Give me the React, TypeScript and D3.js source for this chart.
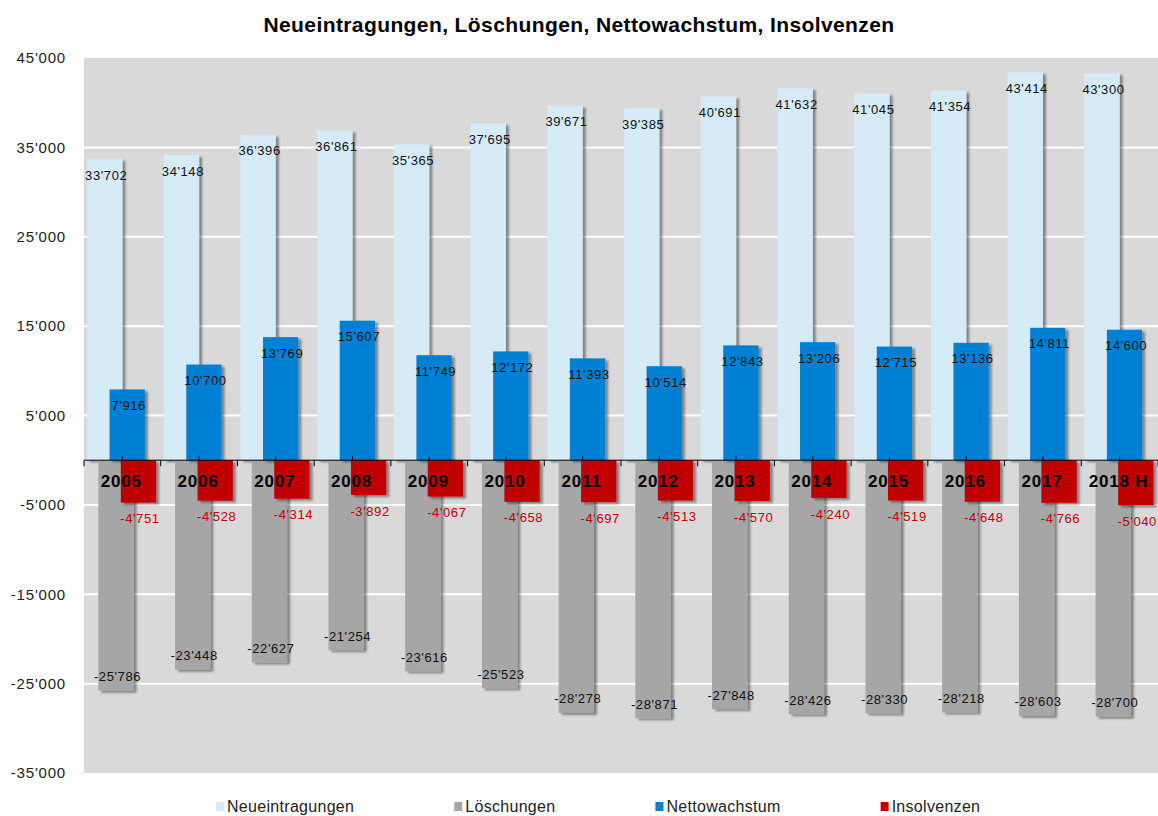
import { useEffect, useRef } from "react";
import * as d3 from "d3";

const years = ["2005", "2006", "2007", "2008", "2009", "2010", "2011", "2012", "2013", "2014", "2015", "2016", "2017", "2018 H"];
const neueintragungen = [33702, 34148, 36396, 36861, 35365, 37695, 39671, 39385, 40691, 41632, 41045, 41354, 43414, 43300];
const loeschungen = [-25786, -23448, -22627, -21254, -23616, -25523, -28278, -28871, -27848, -28426, -28330, -28218, -28603, -28700];
const nettowachstum = [7916, 10700, 13769, 15607, 11749, 12172, 11393, 10514, 12843, 13206, 12715, 13136, 14811, 14600];
const insolvenzen = [-4751, -4528, -4314, -3892, -4067, -4658, -4697, -4513, -4570, -4240, -4519, -4648, -4766, -5040];
const yTicks = [45000, 35000, 25000, 15000, 5000, -5000, -15000, -25000, -35000];
const seriesNames = ["Neueintragungen", "Löschungen", "Nettowachstum", "Insolvenzen"];
const seriesColors = ["#d5ebf8", "#a6a6a6", "#0080d3", "#c00000"];
const title = "Neueintragungen, Löschungen, Nettowachstum, Insolvenzen";

const FONT = "'Liberation Sans', Arial, sans-serif";

export default function App() {
  const svgRef = useRef<SVGSVGElement | null>(null);

  useEffect(() => {
    if (!svgRef.current) return;
    const svg = d3.select(svgRef.current);
    svg.selectAll("*").remove();

    const width = 1158;
    const height = 816;
    const plot = { left: 84, right: 1158, top: 58, bottom: 773 };

    const fmt = d3.formatLocale({
      decimal: ".",
      thousands: "'",
      grouping: [3],
      currency: ["", ""],
      minus: "-",
    }).format(",d");

    const x = d3.scaleBand<string>().domain(years).range([plot.left, plot.right]);
    const bw = x.bandwidth();
    const y = d3.scaleLinear().domain([-35000, 45000]).range([plot.bottom, plot.top]);
    // overlapping bars inside each category
    const sub = d3.scaleLinear().domain([0, 3]).range([0.04, 0.48]);
    const barW = bw * 0.46;

    svg.attr("viewBox", `0 0 ${width} ${height}`).style("font-family", FONT);

    const defs = svg.append("defs");
    const f = defs.append("filter").attr("id", "shadow")
      .attr("x", "-20%").attr("y", "-5%").attr("width", "150%").attr("height", "115%");
    f.append("feDropShadow")
      .attr("dx", 3).attr("dy", 2).attr("stdDeviation", 1.3)
      .attr("flood-color", "#000").attr("flood-opacity", 0.4);

    svg.append("rect").attr("width", width).attr("height", height).attr("fill", "#fff");

    // title
    svg.append("text")
      .attr("x", width / 2).attr("y", 32)
      .attr("text-anchor", "middle")
      .attr("font-size", 21).attr("font-weight", "bold")
      .attr("letter-spacing", 0.4)
      .attr("fill", "#000")
      .text(title);

    // plot background
    svg.append("rect")
      .attr("x", plot.left).attr("y", plot.top)
      .attr("width", plot.right - plot.left).attr("height", plot.bottom - plot.top)
      .attr("fill", "#d9d9d9");

    // grid
    svg.append("g")
      .selectAll("line")
      .data(yTicks.filter((t) => t !== 45000 && t !== -35000))
      .join("line")
      .attr("x1", plot.left).attr("x2", plot.right)
      .attr("y1", (d) => y(d)).attr("y2", (d) => y(d))
      .attr("stroke", "#fff").attr("stroke-width", 2);

    // y labels
    svg.append("g")
      .selectAll("text")
      .data(yTicks)
      .join("text")
      .attr("x", 66).attr("y", (d) => y(d))
      .attr("dy", "0.35em")
      .attr("text-anchor", "end")
      .attr("font-size", 15)
      .attr("letter-spacing", 0.8)
      .attr("fill", "#222")
      .text((d) => fmt(d));

    const series = [neueintragungen, loeschungen, nettowachstum, insolvenzen];

    // bars
    series.forEach((vals, si) => {
      svg.append("g")
        .attr("filter", "url(#shadow)")
        .selectAll("rect")
        .data(vals)
        .join("rect")
        .attr("x", (_, i) => (x(years[i]) as number) + bw * sub(si))
        .attr("width", barW)
        .attr("y", (d) => Math.min(y(d), y(0)))
        .attr("height", (d) => Math.abs(y(d) - y(0)))
        .attr("fill", seriesColors[si]);
    });

    // axis at zero
    const y0 = y(0);
    const ax = svg.append("g");
    ax.append("line")
      .attr("x1", plot.left).attr("x2", plot.right)
      .attr("y1", y0).attr("y2", y0)
      .attr("stroke", "#000").attr("stroke-width", 1);
    ax.selectAll("line.b")
      .data(d3.range(years.length + 1))
      .join("line")
      .attr("class", "b")
      .attr("x1", (i) => plot.left + i * bw).attr("x2", (i) => plot.left + i * bw)
      .attr("y1", y0).attr("y2", y0 + 6)
      .attr("stroke", "#000");
    ax.selectAll("line.c")
      .data(years)
      .join("line")
      .attr("class", "c")
      .attr("x1", (d) => (x(d) as number) + bw / 2).attr("x2", (d) => (x(d) as number) + bw / 2)
      .attr("y1", y0 - 4).attr("y2", y0)
      .attr("stroke", "#000");

    // data labels
    const labelOffset = [16, -14, 16, 16];
    const labelColor = ["#111", "#111", "#111", "#c00000"];
    series.forEach((vals, si) => {
      svg.append("g")
        .selectAll("text")
        .data(vals)
        .join("text")
        .attr("x", (_, i) => (x(years[i]) as number) + bw * sub(si) + barW / 2 + 1.5)
        .attr("y", (d) => y(d) + labelOffset[si])
        .attr("dy", "0.35em")
        .attr("text-anchor", "middle")
        .attr("font-size", 13)
        .attr("letter-spacing", 0.6)
        .attr("fill", labelColor[si])
        .text((d) => fmt(d));
    });

    // category labels
    svg.append("g")
      .selectAll("text")
      .data(years)
      .join("text")
      .attr("x", (d) => (x(d) as number) + bw / 2 - 1)
      .attr("y", 487)
      .attr("text-anchor", "middle")
      .attr("font-size", 17)
      .attr("font-weight", "bold")
      .attr("letter-spacing", 0.8)
      .attr("fill", "#000")
      .text((d) => d);

    // legend
    const lg = svg.append("g");
    let lx = 216;
    seriesNames.forEach((name, si) => {
      lg.append("rect")
        .attr("x", lx).attr("y", 802)
        .attr("width", 8).attr("height", 9)
        .attr("fill", seriesColors[si]);
      const t = lg.append("text")
        .attr("x", lx + 11).attr("y", 812)
        .attr("font-size", 16)
        .attr("letter-spacing", 0.3)
        .attr("fill", "#222")
        .text(name);
      const w = (t.node() as SVGTextElement).getComputedTextLength();
      lx += 11 + w + 100;
    });
  }, []);

  return (
    <svg
      ref={svgRef}
      width={1158}
      height={816}
      style={{ position: "absolute", left: 0, top: 0, display: "block" }}
    />
  );
}
